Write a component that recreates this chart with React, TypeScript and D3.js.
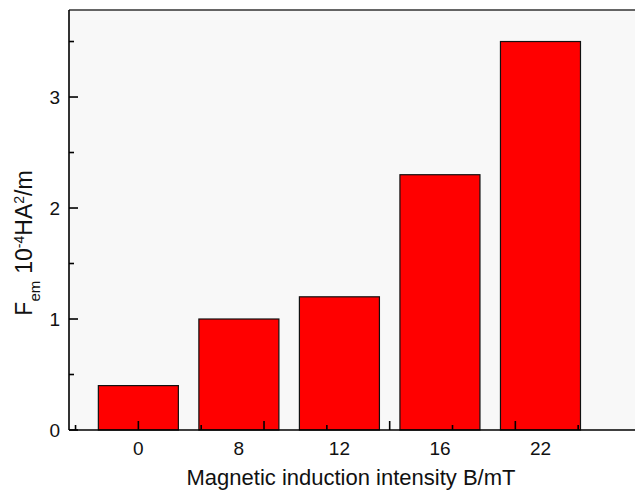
import { useEffect, useRef } from 'react';
import * as d3 from 'd3';

// field strength categories (mT) and force values (10^-4 H·A²/m)
const categories = ['0', '8', '12', '16', '22'];
const forceValues = [0.4, 1.0, 1.2, 2.3, 3.5];
const yMajorTicks = [0, 1, 2, 3];
const yMinorTicks = [0.5, 1.5, 2.5, 3.5];
// x axis ticks live in bar-index units (Origin put them at 1.25 spacing)
const xMajorTicks = [0, 1.25, 2.5, 3.75, 5];
const xMinorTicks = [-0.625, 0.625, 1.875, 3.125, 4.375];

const W = 635;
const H = 490;
const FONT = 'Liberation Sans, Arial, sans-serif';

export default function App() {
  const ref = useRef<SVGSVGElement | null>(null);
  useEffect(() => {
    const svg = d3.select(ref.current!);
    svg.selectAll('*').remove();
    const left = 69, right = 641, top = 10, bottom = 430;
    const x = d3.scaleLinear().domain([-0.69, 5.0]).range([left, right]);
    const y = d3.scaleLinear().domain([0, 3.784]).range([bottom, top]);
    const halfBar = 0.398;

    svg.append('rect').attr('width', W).attr('height', H).attr('fill', '#fff');
    svg.append('rect').attr('x', left).attr('y', top).attr('width', right - left).attr('height', bottom - top).attr('fill', '#f8f8f8');

    svg.append('g').selectAll('rect').data(forceValues).enter().append('rect')
      .attr('x', (_, i) => x(i - halfBar)).attr('y', (d) => y(d))
      .attr('width', x(halfBar) - x(-halfBar)).attr('height', (d) => bottom - y(d))
      .attr('fill', '#ff0000').attr('stroke', '#111').attr('stroke-width', 1.2);

    const axis = svg.append('g').attr('stroke', '#000').attr('stroke-width', 1.6);
    axis.append('line').attr('x1', left).attr('x2', right).attr('y1', top).attr('y2', top).attr('stroke', '#333');
    axis.append('line').attr('x1', left).attr('x2', left).attr('y1', top).attr('y2', bottom);
    axis.append('line').attr('x1', left).attr('x2', right).attr('y1', bottom).attr('y2', bottom);
    axis.append('line').attr('x1', right).attr('x2', right).attr('y1', top).attr('y2', bottom);

    axis.selectAll('.ymaj').data(yMajorTicks).enter().append('line')
      .attr('x1', left).attr('x2', left + 9).attr('y1', (d) => y(d)).attr('y2', (d) => y(d));
    axis.selectAll('.ymin').data(yMinorTicks).enter().append('line')
      .attr('x1', left).attr('x2', left + 5).attr('y1', (d) => y(d)).attr('y2', (d) => y(d));
    axis.selectAll('.xmaj').data(xMajorTicks).enter().append('line')
      .attr('x1', (d) => x(d)).attr('x2', (d) => x(d)).attr('y1', bottom).attr('y2', bottom - 9);
    axis.selectAll('.xmin').data(xMinorTicks).enter().append('line')
      .attr('x1', (d) => x(d)).attr('x2', (d) => x(d)).attr('y1', bottom).attr('y2', bottom - 5);

    svg.append('g').selectAll('text').data(yMajorTicks).enter().append('text')
      .attr('x', left - 9).attr('y', (d) => y(d)).attr('dy', '0.36em')
      .attr('text-anchor', 'end').attr('font-family', FONT).attr('font-size', 19).attr('fill', '#111')
      .text((d) => String(d));

    svg.append('g').selectAll('text').data(categories).enter().append('text')
      .attr('x', (_, i) => x(i)).attr('y', 455)
      .attr('text-anchor', 'middle').attr('font-family', FONT).attr('font-size', 19).attr('fill', '#111')
      .text((d) => d);

    svg.append('text').attr('x', 351).attr('y', 485)
      .attr('text-anchor', 'middle').attr('font-family', FONT).attr('font-size', 22).attr('fill', '#111')
      .text('Magnetic induction intensity B/mT');

    const yl = svg.append('text').attr('transform', 'translate(32,243) rotate(-90)')
      .attr('text-anchor', 'middle').attr('font-family', FONT).attr('font-size', 23).attr('fill', '#111');
    yl.append('tspan').text('F');
    yl.append('tspan').attr('font-size', 15).attr('dy', 8).text('em');
    yl.append('tspan').attr('dy', -8).attr('dx', 7).text('10');
    yl.append('tspan').attr('font-size', 14).attr('dy', -8).text('-4');
    yl.append('tspan').attr('dy', 8).text('HA');
    yl.append('tspan').attr('font-size', 14).attr('dy', -8).text('2');
    yl.append('tspan').attr('dy', 8).text('/m');
  }, []);
  return <svg ref={ref} width={W} height={H} style={{ position: 'fixed', left: 0, top: 0, display: 'block' }} />;
}
